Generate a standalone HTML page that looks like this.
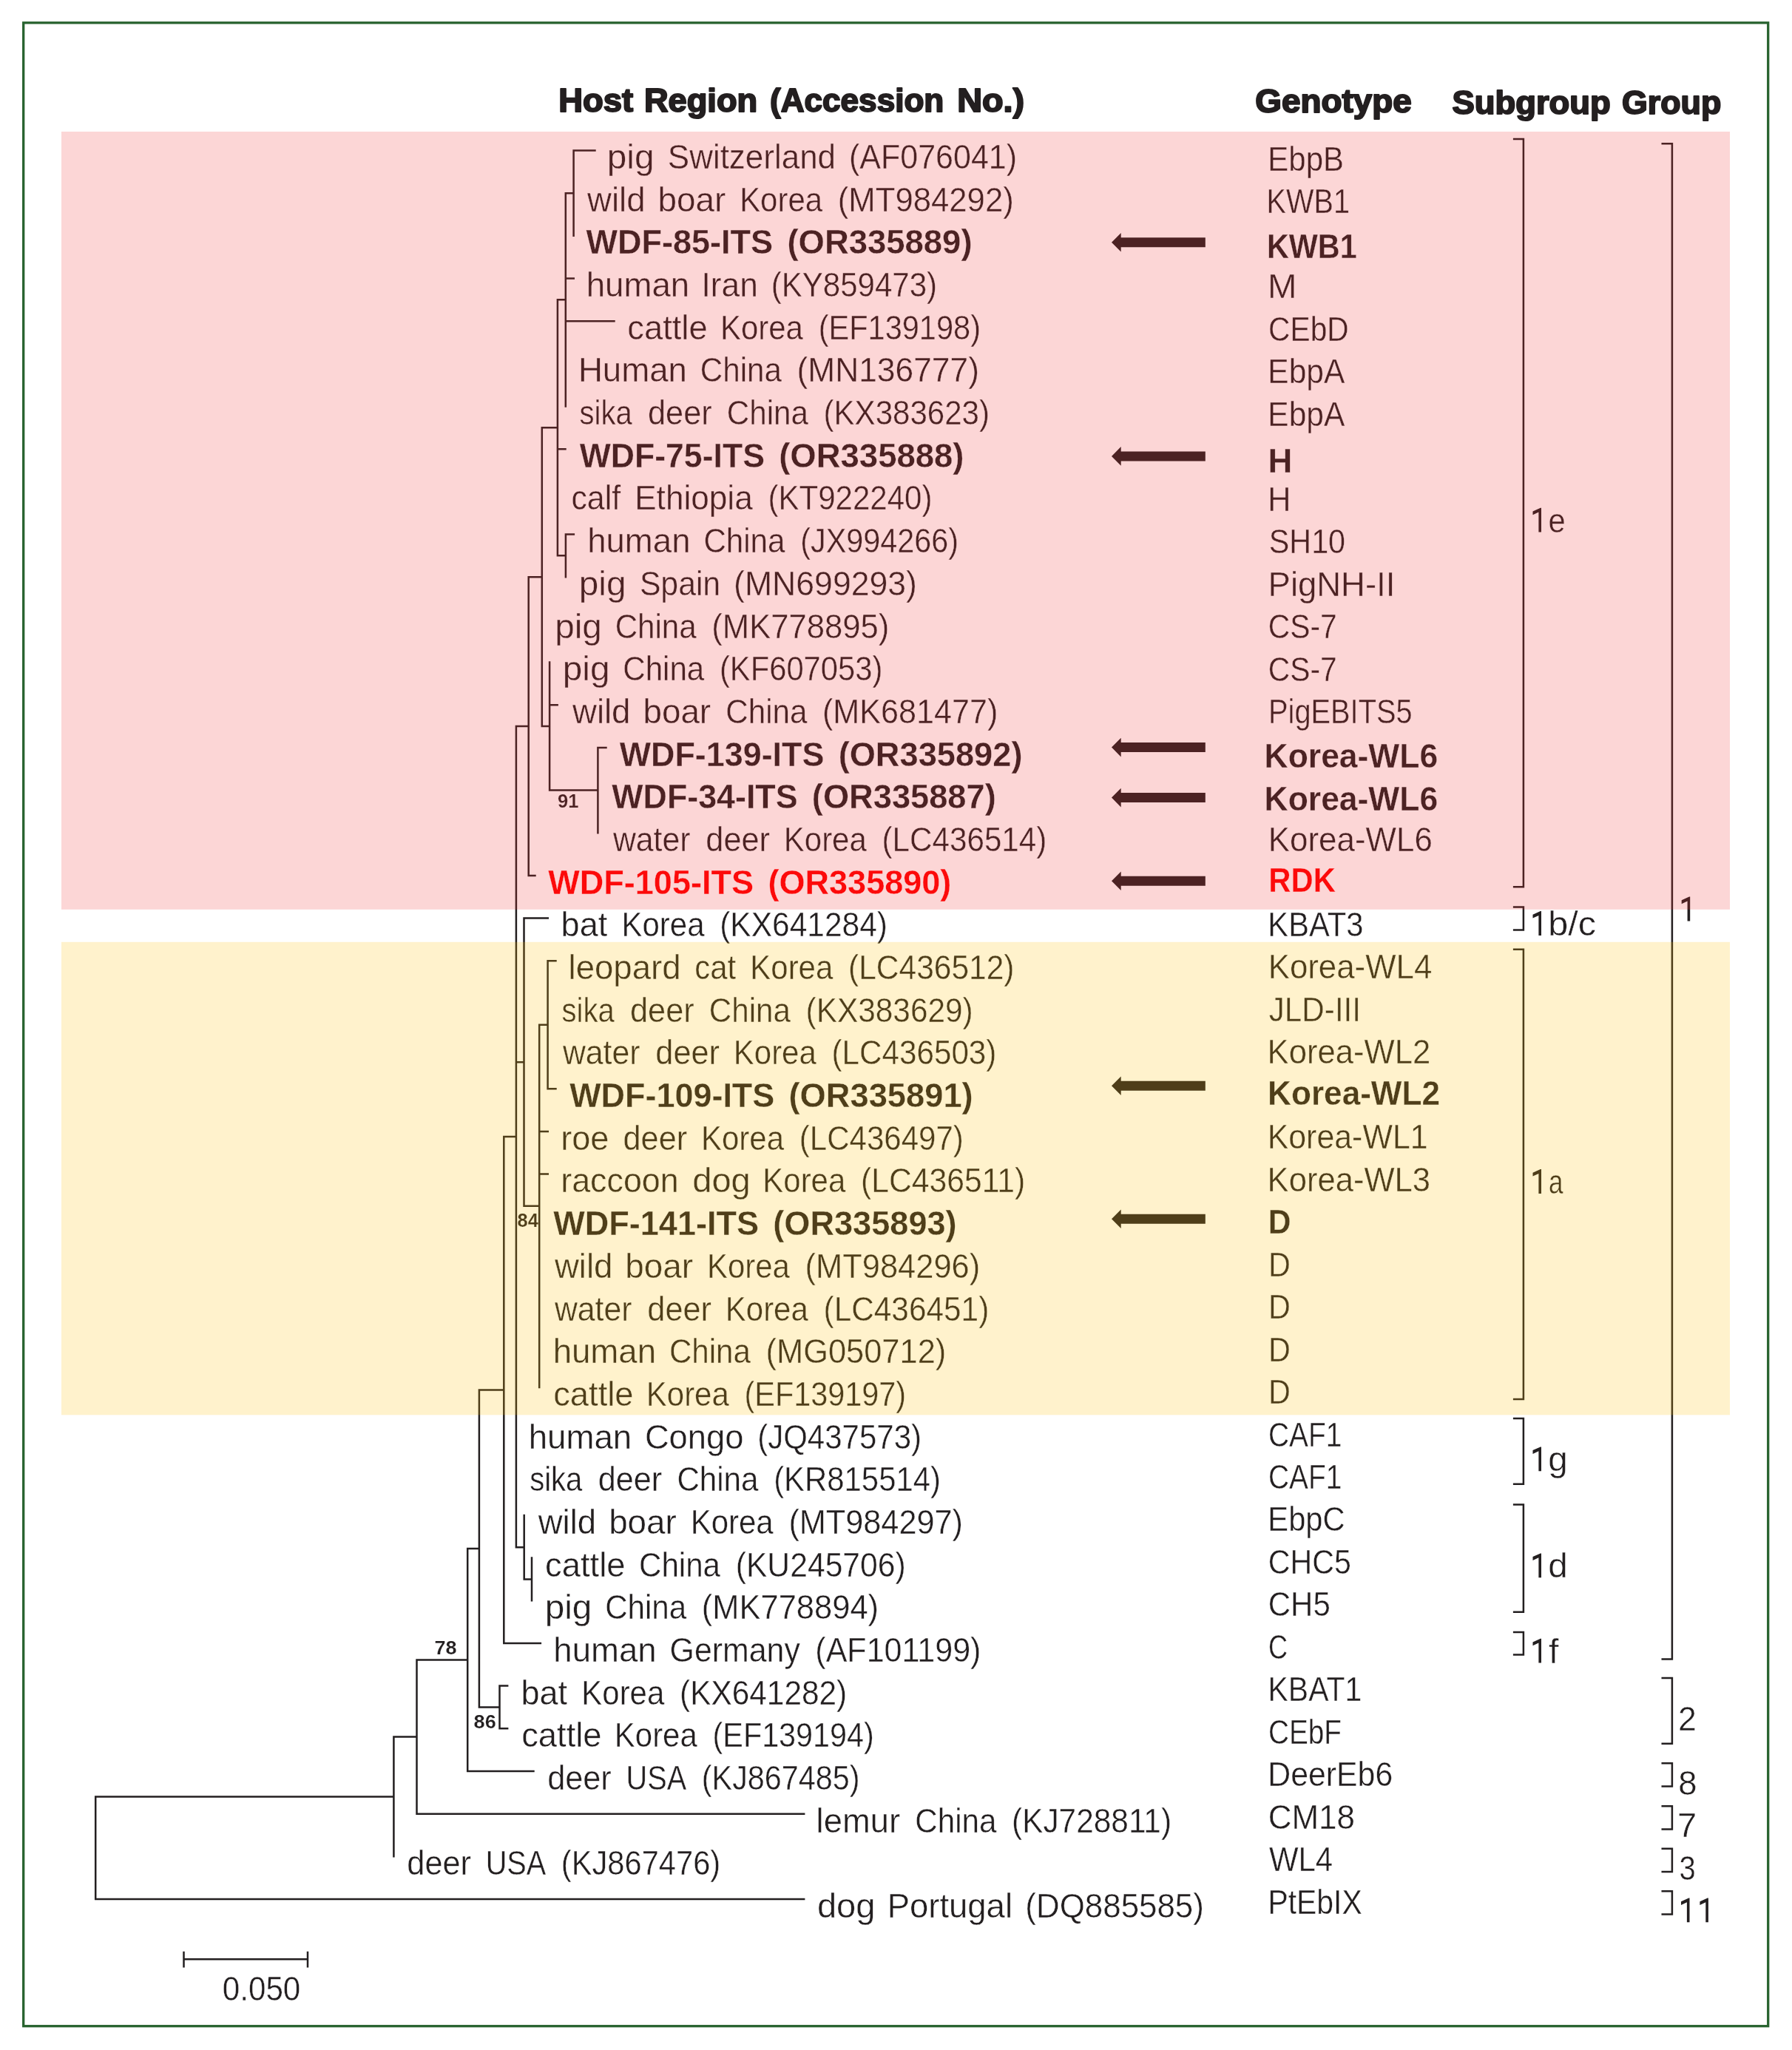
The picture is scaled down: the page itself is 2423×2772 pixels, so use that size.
<!DOCTYPE html>
<html lang="en"><head><meta charset="utf-8"><title>Phylogenetic tree</title><style>html,body{margin:0;padding:0;background:#fff}body{width:2423px;height:2772px;overflow:hidden}</style></head><body>
<svg width="2423" height="2772" viewBox="0 0 2423 2772" style="display:block">
<rect width="2423" height="2772" fill="#fff"/>
<rect x="31.7" y="30.8" width="2359.0" height="2708.9" fill="none" stroke="#28632f" stroke-width="3.3"/>
<path d="M775.60 202.25L775.60 320.09M775.60 203.50L805.70 203.50M764.80 259.92L764.80 550.77M764.80 261.17L775.60 261.17M764.80 376.51L777.00 376.51M764.80 434.18L831.70 434.18M764.90 721.28L764.90 781.45M764.90 722.53L777.10 722.53M753.90 404.10L753.90 752.62M753.90 405.35L764.80 405.35M753.90 607.19L765.70 607.19M753.90 751.37L764.90 751.37M808.40 1009.63L808.40 1127.47M808.40 1010.88L820.70 1010.88M743.10 894.29L743.10 1069.80M743.10 953.21L754.90 953.21M743.10 1068.55L808.40 1068.55M732.80 577.11L732.80 983.30M732.80 578.36L753.90 578.36M732.80 982.05L743.10 982.05M714.70 778.95L714.70 1185.14M714.70 780.20L732.80 780.20M714.70 1183.89L724.70 1183.89M740.60 1297.98L740.60 1473.49M740.60 1299.23L752.70 1299.23M740.60 1472.24L752.70 1472.24M729.20 1384.49L729.20 1877.18M729.20 1385.74L740.60 1385.74M729.20 1529.91L742.00 1529.91M729.20 1587.58L742.00 1587.58M708.50 1240.31L708.50 1632.08M708.50 1241.56L742.00 1241.56M708.50 1630.83L729.20 1630.83M719.00 2105.36L719.00 2165.53M708.70 2047.69L708.70 2136.69M708.70 2135.44L719.00 2135.44M697.90 980.79L697.90 2093.44M697.90 982.04L714.70 982.04M697.90 1436.20L708.50 1436.20M697.90 2092.19L708.70 2092.19M681.30 1535.87L681.30 2223.20M681.30 1537.12L697.90 1537.12M681.30 2221.95L732.10 2221.95M675.50 2278.37L675.50 2338.54M675.50 2279.62L687.40 2279.62M675.50 2337.29L687.40 2337.29M647.90 1878.28L647.90 2309.70M647.90 1879.53L681.30 1879.53M647.90 2308.45L675.50 2308.45M632.20 2092.74L632.20 2396.21M632.20 2093.99L647.90 2093.99M632.20 2394.96L722.70 2394.96M563.50 2243.23L563.50 2453.88M563.50 2244.48L632.20 2244.48M563.50 2452.63L1088.40 2452.63M532.40 2347.30L532.40 2511.55M532.40 2348.55L563.50 2348.55M129.20 2428.18L129.20 2569.22M129.20 2429.43L532.40 2429.43M129.20 2567.97L1088.40 2567.97M248.40 2649.30L416.10 2649.30M248.50 2638.80L248.50 2660.60M416.00 2638.80L416.00 2660.60M2045.90 188.00L2059.90 188.00M2045.90 1199.20L2059.90 1199.20M2059.90 186.75L2059.90 1200.45M2045.90 1226.60L2059.90 1226.60M2045.90 1257.60L2059.90 1257.60M2059.90 1225.35L2059.90 1258.85M2045.90 1283.70L2059.90 1283.70M2045.90 1891.90L2059.90 1891.90M2059.90 1282.45L2059.90 1893.15M2045.90 1918.10L2059.90 1918.10M2045.90 2006.80L2059.90 2006.80M2059.90 1916.85L2059.90 2008.05M2045.90 2034.40L2059.90 2034.40M2045.90 2179.80L2059.90 2179.80M2059.90 2033.15L2059.90 2181.05M2045.90 2207.00L2059.90 2207.00M2045.90 2237.50L2059.90 2237.50M2059.90 2205.75L2059.90 2238.75M2246.50 194.20L2260.90 194.20M2246.50 2243.50L2260.90 2243.50M2260.90 192.95L2260.90 2244.75M2246.50 2269.10L2260.90 2269.10M2246.50 2357.80L2260.90 2357.80M2260.90 2267.85L2260.90 2359.05M2246.50 2384.30L2260.90 2384.30M2246.50 2415.50L2260.90 2415.50M2260.90 2383.05L2260.90 2416.75M2246.50 2442.30L2260.90 2442.30M2246.50 2473.60L2260.90 2473.60M2260.90 2441.05L2260.90 2474.85M2246.50 2499.70L2260.90 2499.70M2246.50 2530.90L2260.90 2530.90M2260.90 2498.45L2260.90 2532.15M2246.50 2557.30L2260.90 2557.30M2246.50 2588.50L2260.90 2588.50M2260.90 2556.05L2260.90 2589.75" stroke="#231f20" stroke-width="2.5" fill="none"/>
<polygon points="1503,327.8 1515.7,315.0 1515.7,321.3 1629.8,321.3 1629.8,334.3 1515.7,334.3 1515.7,340.6" fill="#231f20"/>
<polygon points="1503,616.9 1515.7,604.1 1515.7,610.4 1629.8,610.4 1629.8,623.4 1515.7,623.4 1515.7,629.6999999999999" fill="#231f20"/>
<polygon points="1503,1010.6 1515.7,997.8000000000001 1515.7,1004.1 1629.8,1004.1 1629.8,1017.1 1515.7,1017.1 1515.7,1023.4" fill="#231f20"/>
<polygon points="1503,1078.6 1515.7,1065.8 1515.7,1072.1 1629.8,1072.1 1629.8,1085.1 1515.7,1085.1 1515.7,1091.3999999999999" fill="#231f20"/>
<polygon points="1503,1191.2 1515.7,1178.4 1515.7,1184.7 1629.8,1184.7 1629.8,1197.7 1515.7,1197.7 1515.7,1204.0" fill="#231f20"/>
<polygon points="1503,1468.3 1515.7,1455.5 1515.7,1461.8 1629.8,1461.8 1629.8,1474.8 1515.7,1474.8 1515.7,1481.1" fill="#231f20"/>
<polygon points="1503,1648.3 1515.7,1635.5 1515.7,1641.8 1629.8,1641.8 1629.8,1654.8 1515.7,1654.8 1515.7,1661.1" fill="#231f20"/>
<g font-family="'Liberation Sans', sans-serif" stroke="#fff" stroke-linejoin="round" opacity="0.999">
<text transform="translate(820.81 228.00) scale(1.0373 1)" font-size="46" fill="#231f20" stroke-width="0.40">pig</text>
<text transform="translate(902.84 228.00) scale(0.9556 1)" font-size="46" fill="#231f20" stroke-width="0.40">Switzerland</text>
<text transform="translate(1148.00 228.00) scale(0.9350 1)" font-size="46" fill="#231f20" stroke-width="0.40">(AF076041)</text>
<text transform="translate(794.11 285.69) scale(0.9899 1)" font-size="46" fill="#231f20" stroke-width="0.40">wild</text>
<text transform="translate(889.54 285.69) scale(0.9958 1)" font-size="46" fill="#231f20" stroke-width="0.40">boar</text>
<text transform="translate(1000.14 285.69) scale(0.9122 1)" font-size="46" fill="#231f20" stroke-width="0.40">Korea</text>
<text transform="translate(1132.76 285.69) scale(0.9499 1)" font-size="46" fill="#231f20" stroke-width="0.40">(MT984292)</text>
<text transform="translate(792.55 343.37) scale(0.9898 1)" font-size="45.5" font-weight="bold" fill="#231f20" stroke-width="0.30">WDF-85-ITS</text>
<text transform="translate(1064.42 343.37) scale(0.9991 1)" font-size="45.5" font-weight="bold" fill="#231f20" stroke-width="0.30">(OR335889)</text>
<text transform="translate(792.75 401.06) scale(0.9912 1)" font-size="46" fill="#231f20" stroke-width="0.40">human</text>
<text transform="translate(948.55 401.06) scale(0.9616 1)" font-size="46" fill="#231f20" stroke-width="0.40">Iran</text>
<text transform="translate(1042.75 401.06) scale(0.9137 1)" font-size="46" fill="#231f20" stroke-width="0.40">(KY859473)</text>
<text transform="translate(848.29 458.74) scale(0.9855 1)" font-size="46" fill="#231f20" stroke-width="0.40">cattle</text>
<text transform="translate(973.94 458.74) scale(0.9122 1)" font-size="46" fill="#231f20" stroke-width="0.40">Korea</text>
<text transform="translate(1106.67 458.74) scale(0.9030 1)" font-size="46" fill="#231f20" stroke-width="0.40">(EF139198)</text>
<text transform="translate(781.94 516.42) scale(0.9915 1)" font-size="46" fill="#231f20" stroke-width="0.40">Human</text>
<text transform="translate(946.84 516.42) scale(0.9150 1)" font-size="46" fill="#231f20" stroke-width="0.40">China</text>
<text transform="translate(1077.43 516.42) scale(0.9644 1)" font-size="46" fill="#231f20" stroke-width="0.40">(MN136777)</text>
<text transform="translate(783.60 574.11) scale(0.8694 1)" font-size="46" fill="#231f20" stroke-width="0.40">sika</text>
<text transform="translate(876.06 574.11) scale(0.9399 1)" font-size="46" fill="#231f20" stroke-width="0.40">deer</text>
<text transform="translate(982.84 574.11) scale(0.9150 1)" font-size="46" fill="#231f20" stroke-width="0.40">China</text>
<text transform="translate(1113.55 574.11) scale(0.9145 1)" font-size="46" fill="#231f20" stroke-width="0.40">(KX383623)</text>
<text transform="translate(783.65 631.80) scale(0.9807 1)" font-size="45.5" font-weight="bold" fill="#231f20" stroke-width="0.30">WDF-75-ITS</text>
<text transform="translate(1053.22 631.80) scale(0.9996 1)" font-size="45.5" font-weight="bold" fill="#231f20" stroke-width="0.30">(OR335888)</text>
<text transform="translate(772.48 689.48) scale(0.9299 1)" font-size="46" fill="#231f20" stroke-width="0.40">calf</text>
<text transform="translate(858.16 689.48) scale(0.9604 1)" font-size="46" fill="#231f20" stroke-width="0.40">Ethiopia</text>
<text transform="translate(1038.55 689.48) scale(0.9135 1)" font-size="46" fill="#231f20" stroke-width="0.40">(KT922240)</text>
<text transform="translate(794.15 747.16) scale(0.9912 1)" font-size="46" fill="#231f20" stroke-width="0.40">human</text>
<text transform="translate(951.44 747.16) scale(0.9150 1)" font-size="46" fill="#231f20" stroke-width="0.40">China</text>
<text transform="translate(1082.18 747.16) scale(0.8992 1)" font-size="46" fill="#231f20" stroke-width="0.40">(JX994266)</text>
<text transform="translate(782.81 804.85) scale(1.0373 1)" font-size="46" fill="#231f20" stroke-width="0.40">pig</text>
<text transform="translate(864.88 804.85) scale(0.9291 1)" font-size="46" fill="#231f20" stroke-width="0.40">Spain</text>
<text transform="translate(992.12 804.85) scale(0.9695 1)" font-size="46" fill="#231f20" stroke-width="0.40">(MN699293)</text>
<text transform="translate(750.21 862.54) scale(1.0373 1)" font-size="46" fill="#231f20" stroke-width="0.40">pig</text>
<text transform="translate(831.64 862.54) scale(0.9150 1)" font-size="46" fill="#231f20" stroke-width="0.40">China</text>
<text transform="translate(962.26 862.54) scale(0.9488 1)" font-size="46" fill="#231f20" stroke-width="0.40">(MK778895)</text>
<text transform="translate(760.81 920.22) scale(1.0373 1)" font-size="46" fill="#231f20" stroke-width="0.40">pig</text>
<text transform="translate(842.24 920.22) scale(0.9150 1)" font-size="46" fill="#231f20" stroke-width="0.40">China</text>
<text transform="translate(972.96 920.22) scale(0.9076 1)" font-size="46" fill="#231f20" stroke-width="0.40">(KF607053)</text>
<text transform="translate(774.01 977.90) scale(0.9899 1)" font-size="46" fill="#231f20" stroke-width="0.40">wild</text>
<text transform="translate(869.44 977.90) scale(0.9958 1)" font-size="46" fill="#231f20" stroke-width="0.40">boar</text>
<text transform="translate(981.34 977.90) scale(0.9150 1)" font-size="46" fill="#231f20" stroke-width="0.40">China</text>
<text transform="translate(1111.99 977.90) scale(0.9376 1)" font-size="46" fill="#231f20" stroke-width="0.40">(MK681477)</text>
<text transform="translate(837.65 1035.59) scale(0.9864 1)" font-size="45.5" font-weight="bold" fill="#231f20" stroke-width="0.30">WDF-139-ITS</text>
<text transform="translate(1133.63 1035.59) scale(0.9939 1)" font-size="45.5" font-weight="bold" fill="#231f20" stroke-width="0.30">(OR335892)</text>
<text transform="translate(827.35 1093.28) scale(0.9843 1)" font-size="45.5" font-weight="bold" fill="#231f20" stroke-width="0.30">WDF-34-ITS</text>
<text transform="translate(1097.83 1093.28) scale(0.9943 1)" font-size="45.5" font-weight="bold" fill="#231f20" stroke-width="0.30">(OR335887)</text>
<text transform="translate(828.88 1150.96) scale(0.9300 1)" font-size="46" fill="#231f20" stroke-width="0.40">water</text>
<text transform="translate(954.36 1150.96) scale(0.9399 1)" font-size="46" fill="#231f20" stroke-width="0.40">deer</text>
<text transform="translate(1059.84 1150.96) scale(0.9122 1)" font-size="46" fill="#231f20" stroke-width="0.40">Korea</text>
<text transform="translate(1192.54 1150.96) scale(0.9172 1)" font-size="46" fill="#231f20" stroke-width="0.40">(LC436514)</text>
<text transform="translate(741.15 1208.64) scale(0.9910 1)" font-size="45.5" font-weight="bold" fill="#ff0000" stroke-width="0.30">WDF-105-ITS</text>
<text transform="translate(1038.44 1208.64) scale(0.9906 1)" font-size="45.5" font-weight="bold" fill="#ff0000" stroke-width="0.30">(OR335890)</text>
<text transform="translate(758.59 1266.33) scale(0.9798 1)" font-size="46" fill="#231f20" stroke-width="0.40">bat</text>
<text transform="translate(840.54 1266.33) scale(0.9122 1)" font-size="46" fill="#231f20" stroke-width="0.40">Korea</text>
<text transform="translate(973.22 1266.33) scale(0.9241 1)" font-size="46" fill="#231f20" stroke-width="0.40">(KX641284)</text>
<text transform="translate(768.55 1324.02) scale(0.9912 1)" font-size="46" fill="#231f20" stroke-width="0.40">leopard</text>
<text transform="translate(939.21 1324.02) scale(0.9098 1)" font-size="46" fill="#231f20" stroke-width="0.40">cat</text>
<text transform="translate(1014.34 1324.02) scale(0.9122 1)" font-size="46" fill="#231f20" stroke-width="0.40">Korea</text>
<text transform="translate(1147.02 1324.02) scale(0.9244 1)" font-size="46" fill="#231f20" stroke-width="0.40">(LC436512)</text>
<text transform="translate(759.60 1381.70) scale(0.8694 1)" font-size="46" fill="#231f20" stroke-width="0.40">sika</text>
<text transform="translate(852.06 1381.70) scale(0.9399 1)" font-size="46" fill="#231f20" stroke-width="0.40">deer</text>
<text transform="translate(958.84 1381.70) scale(0.9150 1)" font-size="46" fill="#231f20" stroke-width="0.40">China</text>
<text transform="translate(1089.53 1381.70) scale(0.9216 1)" font-size="46" fill="#231f20" stroke-width="0.40">(KX383629)</text>
<text transform="translate(760.88 1439.38) scale(0.9300 1)" font-size="46" fill="#231f20" stroke-width="0.40">water</text>
<text transform="translate(886.36 1439.38) scale(0.9399 1)" font-size="46" fill="#231f20" stroke-width="0.40">deer</text>
<text transform="translate(991.84 1439.38) scale(0.9122 1)" font-size="46" fill="#231f20" stroke-width="0.40">Korea</text>
<text transform="translate(1124.54 1439.38) scale(0.9176 1)" font-size="46" fill="#231f20" stroke-width="0.40">(LC436503)</text>
<text transform="translate(770.15 1497.07) scale(0.9878 1)" font-size="45.5" font-weight="bold" fill="#231f20" stroke-width="0.30">WDF-109-ITS</text>
<text transform="translate(1066.53 1497.07) scale(0.9955 1)" font-size="45.5" font-weight="bold" fill="#231f20" stroke-width="0.30">(OR335891)</text>
<text transform="translate(758.19 1554.76) scale(0.9797 1)" font-size="46" fill="#231f20" stroke-width="0.40">roe</text>
<text transform="translate(842.56 1554.76) scale(0.9399 1)" font-size="46" fill="#231f20" stroke-width="0.40">deer</text>
<text transform="translate(948.04 1554.76) scale(0.9122 1)" font-size="46" fill="#231f20" stroke-width="0.40">Korea</text>
<text transform="translate(1080.75 1554.76) scale(0.9143 1)" font-size="46" fill="#231f20" stroke-width="0.40">(LC436497)</text>
<text transform="translate(758.20 1612.44) scale(0.9753 1)" font-size="46" fill="#231f20" stroke-width="0.40">raccoon</text>
<text transform="translate(936.22 1612.44) scale(1.0245 1)" font-size="46" fill="#231f20" stroke-width="0.40">dog</text>
<text transform="translate(1031.34 1612.44) scale(0.9122 1)" font-size="46" fill="#231f20" stroke-width="0.40">Korea</text>
<text transform="translate(1164.01 1612.44) scale(0.9284 1)" font-size="46" fill="#231f20" stroke-width="0.40">(LC436511)</text>
<text transform="translate(748.35 1670.12) scale(0.9896 1)" font-size="45.5" font-weight="bold" fill="#231f20" stroke-width="0.30">WDF-141-ITS</text>
<text transform="translate(1045.24 1670.12) scale(0.9922 1)" font-size="45.5" font-weight="bold" fill="#231f20" stroke-width="0.30">(OR335893)</text>
<text transform="translate(749.91 1727.81) scale(0.9899 1)" font-size="46" fill="#231f20" stroke-width="0.40">wild</text>
<text transform="translate(845.34 1727.81) scale(0.9958 1)" font-size="46" fill="#231f20" stroke-width="0.40">boar</text>
<text transform="translate(955.94 1727.81) scale(0.9122 1)" font-size="46" fill="#231f20" stroke-width="0.40">Korea</text>
<text transform="translate(1088.57 1727.81) scale(0.9446 1)" font-size="46" fill="#231f20" stroke-width="0.40">(MT984296)</text>
<text transform="translate(749.88 1785.50) scale(0.9300 1)" font-size="46" fill="#231f20" stroke-width="0.40">water</text>
<text transform="translate(875.36 1785.50) scale(0.9399 1)" font-size="46" fill="#231f20" stroke-width="0.40">deer</text>
<text transform="translate(980.84 1785.50) scale(0.9122 1)" font-size="46" fill="#231f20" stroke-width="0.40">Korea</text>
<text transform="translate(1113.53 1785.50) scale(0.9210 1)" font-size="46" fill="#231f20" stroke-width="0.40">(LC436451)</text>
<text transform="translate(747.65 1843.18) scale(0.9912 1)" font-size="46" fill="#231f20" stroke-width="0.40">human</text>
<text transform="translate(904.94 1843.18) scale(0.9150 1)" font-size="46" fill="#231f20" stroke-width="0.40">China</text>
<text transform="translate(1035.58 1843.18) scale(0.9436 1)" font-size="46" fill="#231f20" stroke-width="0.40">(MG050712)</text>
<text transform="translate(748.19 1900.87) scale(0.9855 1)" font-size="46" fill="#231f20" stroke-width="0.40">cattle</text>
<text transform="translate(873.84 1900.87) scale(0.9122 1)" font-size="46" fill="#231f20" stroke-width="0.40">Korea</text>
<text transform="translate(1006.58 1900.87) scale(0.8997 1)" font-size="46" fill="#231f20" stroke-width="0.40">(EF139197)</text>
<text transform="translate(714.75 1958.55) scale(0.9912 1)" font-size="46" fill="#231f20" stroke-width="0.40">human</text>
<text transform="translate(871.88 1958.55) scale(0.9860 1)" font-size="46" fill="#231f20" stroke-width="0.40">Congo</text>
<text transform="translate(1024.15 1958.55) scale(0.9135 1)" font-size="46" fill="#231f20" stroke-width="0.40">(JQ437573)</text>
<text transform="translate(716.20 2016.24) scale(0.8694 1)" font-size="46" fill="#231f20" stroke-width="0.40">sika</text>
<text transform="translate(808.66 2016.24) scale(0.9399 1)" font-size="46" fill="#231f20" stroke-width="0.40">deer</text>
<text transform="translate(915.44 2016.24) scale(0.9150 1)" font-size="46" fill="#231f20" stroke-width="0.40">China</text>
<text transform="translate(1046.15 2016.24) scale(0.9107 1)" font-size="46" fill="#231f20" stroke-width="0.40">(KR815514)</text>
<text transform="translate(727.71 2073.92) scale(0.9899 1)" font-size="46" fill="#231f20" stroke-width="0.40">wild</text>
<text transform="translate(823.14 2073.92) scale(0.9958 1)" font-size="46" fill="#231f20" stroke-width="0.40">boar</text>
<text transform="translate(933.74 2073.92) scale(0.9122 1)" font-size="46" fill="#231f20" stroke-width="0.40">Korea</text>
<text transform="translate(1066.38 2073.92) scale(0.9405 1)" font-size="46" fill="#231f20" stroke-width="0.40">(MT984297)</text>
<text transform="translate(737.09 2131.61) scale(0.9855 1)" font-size="46" fill="#231f20" stroke-width="0.40">cattle</text>
<text transform="translate(864.04 2131.61) scale(0.9150 1)" font-size="46" fill="#231f20" stroke-width="0.40">China</text>
<text transform="translate(994.71 2131.61) scale(0.9276 1)" font-size="46" fill="#231f20" stroke-width="0.40">(KU245706)</text>
<text transform="translate(736.71 2189.29) scale(1.0373 1)" font-size="46" fill="#231f20" stroke-width="0.40">pig</text>
<text transform="translate(818.14 2189.29) scale(0.9150 1)" font-size="46" fill="#231f20" stroke-width="0.40">China</text>
<text transform="translate(948.77 2189.29) scale(0.9456 1)" font-size="46" fill="#231f20" stroke-width="0.40">(MK778894)</text>
<text transform="translate(748.35 2246.98) scale(0.9912 1)" font-size="46" fill="#231f20" stroke-width="0.40">human</text>
<text transform="translate(905.60 2246.98) scale(0.9319 1)" font-size="46" fill="#231f20" stroke-width="0.40">Germany</text>
<text transform="translate(1102.29 2246.98) scale(0.9362 1)" font-size="46" fill="#231f20" stroke-width="0.40">(AF101199)</text>
<text transform="translate(704.39 2304.66) scale(0.9798 1)" font-size="46" fill="#231f20" stroke-width="0.40">bat</text>
<text transform="translate(786.34 2304.66) scale(0.9122 1)" font-size="46" fill="#231f20" stroke-width="0.40">Korea</text>
<text transform="translate(919.03 2304.66) scale(0.9216 1)" font-size="46" fill="#231f20" stroke-width="0.40">(KX641282)</text>
<text transform="translate(705.19 2362.35) scale(0.9855 1)" font-size="46" fill="#231f20" stroke-width="0.40">cattle</text>
<text transform="translate(830.84 2362.35) scale(0.9122 1)" font-size="46" fill="#231f20" stroke-width="0.40">Korea</text>
<text transform="translate(963.58 2362.35) scale(0.8984 1)" font-size="46" fill="#231f20" stroke-width="0.40">(EF139194)</text>
<text transform="translate(740.26 2420.03) scale(0.9399 1)" font-size="46" fill="#231f20" stroke-width="0.40">deer</text>
<text transform="translate(846.55 2420.03) scale(0.8620 1)" font-size="46" fill="#231f20" stroke-width="0.40">USA</text>
<text transform="translate(948.78 2420.03) scale(0.8992 1)" font-size="46" fill="#231f20" stroke-width="0.40">(KJ867485)</text>
<text transform="translate(1103.56 2477.72) scale(0.9872 1)" font-size="46" fill="#231f20" stroke-width="0.40">lemur</text>
<text transform="translate(1237.34 2477.72) scale(0.9150 1)" font-size="46" fill="#231f20" stroke-width="0.40">China</text>
<text transform="translate(1368.03 2477.72) scale(0.9217 1)" font-size="46" fill="#231f20" stroke-width="0.40">(KJ728811)</text>
<text transform="translate(550.36 2535.40) scale(0.9399 1)" font-size="46" fill="#231f20" stroke-width="0.40">deer</text>
<text transform="translate(656.65 2535.40) scale(0.8620 1)" font-size="46" fill="#231f20" stroke-width="0.40">USA</text>
<text transform="translate(758.87 2535.40) scale(0.9056 1)" font-size="46" fill="#231f20" stroke-width="0.40">(KJ867476)</text>
<text transform="translate(1104.92 2593.09) scale(1.0245 1)" font-size="46" fill="#231f20" stroke-width="0.40">dog</text>
<text transform="translate(1199.75 2593.09) scale(0.9878 1)" font-size="46" fill="#231f20" stroke-width="0.40">Portugal</text>
<text transform="translate(1386.35 2593.09) scale(0.9545 1)" font-size="46" fill="#231f20" stroke-width="0.40">(DQ885585)</text>
<text transform="translate(1714.33 230.80) scale(0.9137 1)" font-size="46" fill="#231f20" stroke-width="0.40">EbpB</text>
<text transform="translate(1712.52 288.29) scale(0.8634 1)" font-size="46" fill="#231f20" stroke-width="0.40">KWB1</text>
<text transform="translate(1713.88 403.27) scale(1.0344 1)" font-size="46" fill="#231f20" stroke-width="0.40">M</text>
<text transform="translate(1715.12 460.76) scale(0.8848 1)" font-size="46" fill="#231f20" stroke-width="0.40">CEbD</text>
<text transform="translate(1714.29 518.25) scale(0.9259 1)" font-size="46" fill="#231f20" stroke-width="0.40">EbpA</text>
<text transform="translate(1714.29 575.74) scale(0.9259 1)" font-size="46" fill="#231f20" stroke-width="0.40">EbpA</text>
<text transform="translate(1714.23 690.72) scale(0.9421 1)" font-size="46" fill="#231f20" stroke-width="0.40">H</text>
<text transform="translate(1715.73 748.21) scale(0.8984 1)" font-size="46" fill="#231f20" stroke-width="0.40">SH10</text>
<text transform="translate(1714.55 805.70) scale(0.9888 1)" font-size="46" fill="#231f20" stroke-width="0.40">PigNH-II</text>
<text transform="translate(1714.81 863.19) scale(0.8876 1)" font-size="46" fill="#231f20" stroke-width="0.40">CS-7</text>
<text transform="translate(1714.81 920.68) scale(0.8876 1)" font-size="46" fill="#231f20" stroke-width="0.40">CS-7</text>
<text transform="translate(1715.02 978.17) scale(0.8652 1)" font-size="46" fill="#231f20" stroke-width="0.40">PigEBITS5</text>
<text transform="translate(1714.68 1150.64) scale(0.9551 1)" font-size="46" fill="#231f20" stroke-width="0.40">Korea-WL6</text>
<text transform="translate(1714.36 1265.62) scale(0.9080 1)" font-size="46" fill="#231f20" stroke-width="0.40">KBAT3</text>
<text transform="translate(1714.68 1323.11) scale(0.9529 1)" font-size="46" fill="#231f20" stroke-width="0.40">Korea-WL4</text>
<text transform="translate(1715.76 1380.60) scale(0.9179 1)" font-size="46" fill="#231f20" stroke-width="0.40">JLD-III</text>
<text transform="translate(1713.60 1438.09) scale(0.9484 1)" font-size="46" fill="#231f20" stroke-width="0.40">Korea-WL2</text>
<text transform="translate(1713.66 1553.07) scale(0.9326 1)" font-size="46" fill="#231f20" stroke-width="0.40">Korea-WL1</text>
<text transform="translate(1713.61 1610.56) scale(0.9476 1)" font-size="46" fill="#231f20" stroke-width="0.40">Korea-WL3</text>
<text transform="translate(1714.88 1725.54) scale(0.9012 1)" font-size="46" fill="#231f20" stroke-width="0.40">D</text>
<text transform="translate(1714.88 1783.03) scale(0.9012 1)" font-size="46" fill="#231f20" stroke-width="0.40">D</text>
<text transform="translate(1714.88 1840.52) scale(0.9012 1)" font-size="46" fill="#231f20" stroke-width="0.40">D</text>
<text transform="translate(1714.88 1898.01) scale(0.9012 1)" font-size="46" fill="#231f20" stroke-width="0.40">D</text>
<text transform="translate(1714.91 1955.50) scale(0.8448 1)" font-size="46" fill="#231f20" stroke-width="0.40">CAF1</text>
<text transform="translate(1714.91 2012.99) scale(0.8448 1)" font-size="46" fill="#231f20" stroke-width="0.40">CAF1</text>
<text transform="translate(1714.36 2070.48) scale(0.9061 1)" font-size="46" fill="#231f20" stroke-width="0.40">EbpC</text>
<text transform="translate(1714.79 2127.97) scale(0.8955 1)" font-size="46" fill="#231f20" stroke-width="0.40">CHC5</text>
<text transform="translate(1714.75 2185.46) scale(0.9132 1)" font-size="46" fill="#231f20" stroke-width="0.40">CH5</text>
<text transform="translate(1715.05 2242.95) scale(0.7843 1)" font-size="46" fill="#231f20" stroke-width="0.40">C</text>
<text transform="translate(1714.42 2300.44) scale(0.8919 1)" font-size="46" fill="#231f20" stroke-width="0.40">KBAT1</text>
<text transform="translate(1714.92 2357.93) scale(0.8421 1)" font-size="46" fill="#231f20" stroke-width="0.40">CEbF</text>
<text transform="translate(1714.27 2415.42) scale(0.9306 1)" font-size="46" fill="#231f20" stroke-width="0.40">DeerEb6</text>
<text transform="translate(1714.65 2472.91) scale(0.9570 1)" font-size="46" fill="#231f20" stroke-width="0.40">CM18</text>
<text transform="translate(1715.92 2530.40) scale(0.9115 1)" font-size="46" fill="#231f20" stroke-width="0.40">WL4</text>
<text transform="translate(1714.43 2587.89) scale(0.8890 1)" font-size="46" fill="#231f20" stroke-width="0.40">PtEbIX</text>
<text transform="translate(1712.88 348.50) scale(0.9098 1)" font-size="45.5" font-weight="bold" fill="#231f20" stroke-width="0.30">KWB1</text>
<text transform="translate(1714.61 638.70) scale(0.9993 1)" font-size="45.5" font-weight="bold" fill="#231f20" stroke-width="0.30">H</text>
<text transform="translate(1709.58 1037.80) scale(0.9772 1)" font-size="45.5" font-weight="bold" fill="#231f20" stroke-width="0.30">Korea-WL6</text>
<text transform="translate(1709.58 1095.60) scale(0.9772 1)" font-size="45.5" font-weight="bold" fill="#231f20" stroke-width="0.30">Korea-WL6</text>
<text transform="translate(1715.35 1206.10) scale(0.9194 1)" font-size="45.5" font-weight="bold" fill="#ff0000" stroke-width="0.30">RDK</text>
<text transform="translate(1714.10 1493.50) scale(0.9699 1)" font-size="45.5" font-weight="bold" fill="#231f20" stroke-width="0.30">Korea-WL2</text>
<text transform="translate(1714.79 1667.90) scale(0.9381 1)" font-size="45.5" font-weight="bold" fill="#231f20" stroke-width="0.30">D</text>
<text transform="translate(755.20 150.90) scale(1.0446 1)" font-size="43.5" font-weight="bold" fill="#231f20" stroke="#231f20" stroke-width="2.00">Host</text>
<text transform="translate(870.91 150.90) scale(1.0395 1)" font-size="43.5" font-weight="bold" fill="#231f20" stroke="#231f20" stroke-width="2.00">Region</text>
<text transform="translate(1040.95 150.90) scale(1.0146 1)" font-size="43.5" font-weight="bold" fill="#231f20" stroke="#231f20" stroke-width="2.00">(Accession</text>
<text transform="translate(1294.15 150.90) scale(1.0770 1)" font-size="43.5" font-weight="bold" fill="#231f20" stroke="#231f20" stroke-width="2.00">No.)</text>
<text transform="translate(1697.22 151.80) scale(1.0541 1)" font-size="43.5" font-weight="bold" fill="#231f20" stroke="#231f20" stroke-width="2.00">Genotype</text>
<text transform="translate(1963.43 153.60) scale(1.0440 1)" font-size="43.5" font-weight="bold" fill="#231f20" stroke="#231f20" stroke-width="2.00">Subgroup</text>
<text transform="translate(2193.03 153.60) scale(1.0293 1)" font-size="43.5" font-weight="bold" fill="#231f20" stroke="#231f20" stroke-width="2.00">Group</text>
<text transform="translate(2093.61 719.60) scale(0.9095 1)" font-size="46" fill="#231f20" stroke-width="0.40">e</text>
<text transform="translate(2093.25 1264.90) scale(1.0581 1)" font-size="46" fill="#231f20" stroke-width="0.40">b/c</text>
<text transform="translate(2093.95 1613.90) scale(0.7613 1)" font-size="46" fill="#231f20" stroke-width="0.40">a</text>
<text transform="translate(2093.31 1989.20) scale(1.0348 1)" font-size="46" fill="#231f20" stroke-width="0.40">g</text>
<text transform="translate(2093.31 2133.20) scale(1.0348 1)" font-size="46" fill="#231f20" stroke-width="0.40">d</text>
<text transform="translate(2093.89 2248.60) scale(1.0528 1)" font-size="46" fill="#231f20" stroke-width="0.40">f</text>
<text transform="translate(2269.02 2339.80) scale(0.9687 1)" font-size="46" fill="#231f20" stroke-width="0.40">2</text>
<text transform="translate(2269.18 2426.70) scale(0.9871 1)" font-size="46" fill="#231f20" stroke-width="0.40">8</text>
<text transform="translate(2267.88 2484.30) scale(1.0254 1)" font-size="46" fill="#231f20" stroke-width="0.40">7</text>
<text transform="translate(2270.48 2542.00) scale(0.8683 1)" font-size="46" fill="#231f20" stroke-width="0.40">3</text>
<text transform="translate(754.02 1092.30) scale(0.9820 1)" font-size="26" font-weight="bold" fill="#231f20" stroke-width="0.17">91</text>
<text transform="translate(699.62 1658.80) scale(0.9785 1)" font-size="26" font-weight="bold" fill="#231f20" stroke-width="0.17">84</text>
<text transform="translate(587.57 2236.90) scale(1.0407 1)" font-size="26" font-weight="bold" fill="#231f20" stroke-width="0.17">78</text>
<text transform="translate(640.56 2337.10) scale(1.0443 1)" font-size="26" font-weight="bold" fill="#231f20" stroke-width="0.17">86</text>
<text transform="translate(300.80 2705.00) scale(0.9168 1)" font-size="46" fill="#231f20" stroke-width="0.40">0.050</text>
</g>
<polygon points="2084.00,719.60 2084.00,686.80 2082.90,686.80 2072.50,691.50 2072.50,696.30 2080.40,692.60 2080.40,719.60" fill="#231f20"/>
<polygon points="2084.00,1264.90 2084.00,1232.10 2082.90,1232.10 2072.50,1236.80 2072.50,1241.60 2080.40,1237.90 2080.40,1264.90" fill="#231f20"/>
<polygon points="2084.00,1613.90 2084.00,1581.10 2082.90,1581.10 2072.50,1585.80 2072.50,1590.60 2080.40,1586.90 2080.40,1613.90" fill="#231f20"/>
<polygon points="2084.00,1989.20 2084.00,1956.40 2082.90,1956.40 2072.50,1961.10 2072.50,1965.90 2080.40,1962.20 2080.40,1989.20" fill="#231f20"/>
<polygon points="2084.00,2133.20 2084.00,2100.40 2082.90,2100.40 2072.50,2105.10 2072.50,2109.90 2080.40,2106.20 2080.40,2133.20" fill="#231f20"/>
<polygon points="2084.00,2248.60 2084.00,2215.80 2082.90,2215.80 2072.50,2220.50 2072.50,2225.30 2080.40,2221.60 2080.40,2248.60" fill="#231f20"/>
<polygon points="2285.20,1245.50 2285.20,1212.60 2284.10,1212.60 2273.70,1217.31 2273.70,1222.13 2281.60,1218.42 2281.60,1245.50" fill="#231f20"/>
<polygon points="2284.50,2599.20 2284.50,2566.60 2283.40,2566.60 2273.00,2571.27 2273.00,2576.04 2280.90,2572.36 2280.90,2599.20" fill="#231f20"/>
<polygon points="2309.90,2599.20 2309.90,2566.60 2308.80,2566.60 2298.40,2571.27 2298.40,2576.04 2306.30,2572.36 2306.30,2599.20" fill="#231f20"/>
<rect x="83" y="178" width="2256" height="1051.8" fill="rgb(238,48,48)" fill-opacity="0.2"/>
<rect x="83" y="1273.8" width="2256" height="639.5" fill="rgb(255,192,0)" fill-opacity="0.2"/>
</svg>
</body></html>
